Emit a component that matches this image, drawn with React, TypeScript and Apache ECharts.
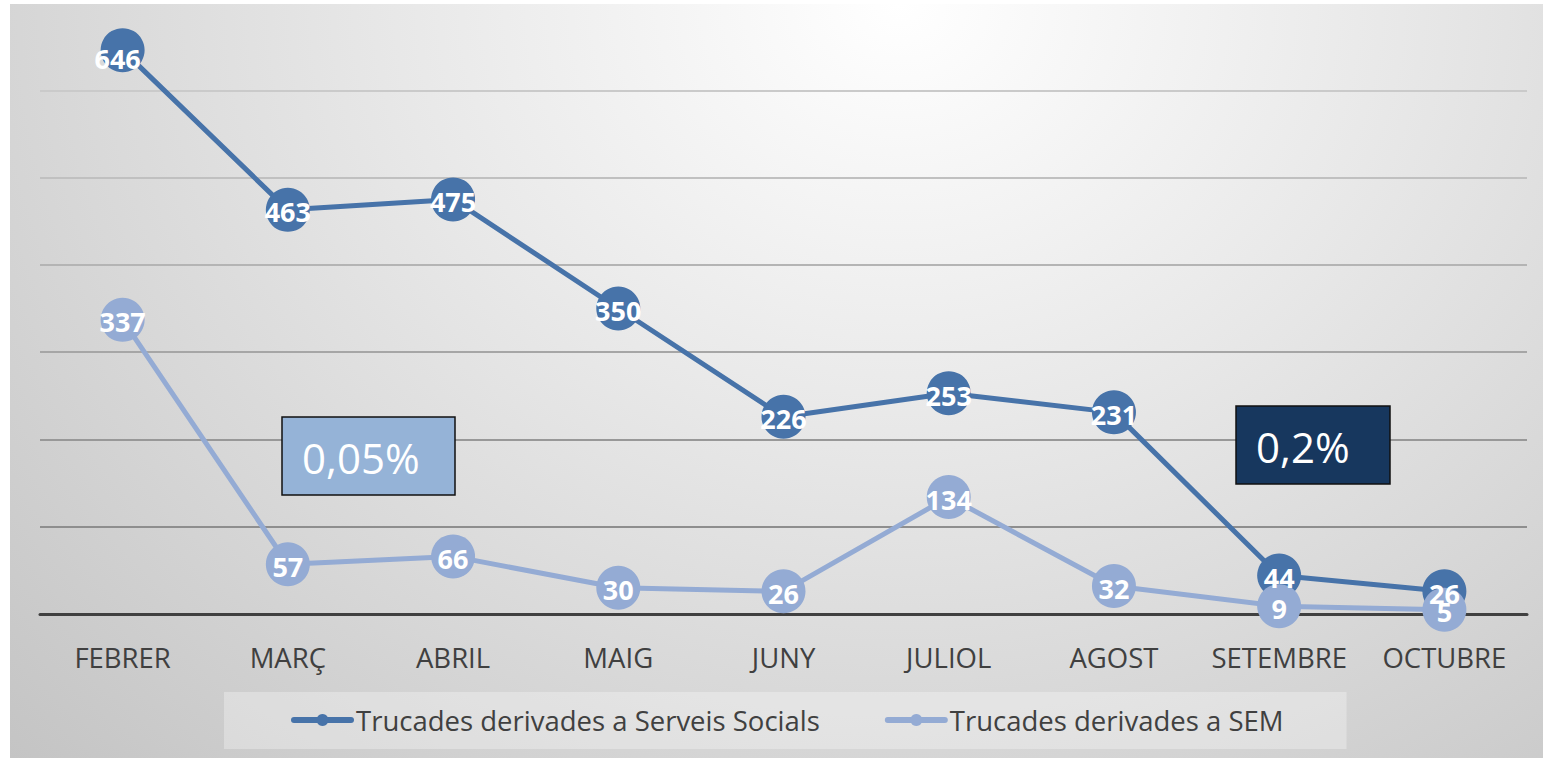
import React, { useEffect, useRef } from "react";
import * as echarts from "echarts";

const months = ["FEBRER", "MARÇ", "ABRIL", "MAIG", "JUNY", "JULIOL", "AGOST", "SETEMBRE", "OCTUBRE"];
const serveisSocials = [646, 463, 475, 350, 226, 253, 231, 44, 26];
const sem = [337, 57, 66, 30, 26, 134, 32, 9, 5];
const seriesNames = ["Trucades derivades a Serveis Socials", "Trucades derivades a SEM"];
const notes = ["0,05%", "0,2%"];

const FONT = "'Open Sans', sans-serif";
const DARK = "#4773A9";
const LIGHT = "#94ABD4";

export default function App() {
  const ref = useRef<HTMLDivElement>(null);

  useEffect(() => {
    if (!ref.current) return;
    const chart = echarts.init(ref.current, undefined, { renderer: "svg" });
    const maxVal = Math.max(...serveisSocials);
    const mkData = (arr: number[]) =>
      arr.map((v) =>
        v === maxVal ? { value: v, label: { offset: [-5, 8] } } : v
      );
    const labelCfg = {
      show: true,
      position: "inside",
      offset: [0, 2],
      color: "#ffffff",
      fontFamily: FONT,
      fontWeight: "bold",
      fontSize: 27,
    };
    chart.setOption({
      animation: false,
      backgroundColor: "transparent",
      textStyle: { fontFamily: FONT },
      grid: { left: 40, right: 17, top: 3, bottom: 145, containLabel: false },
      xAxis: {
        type: "category",
        data: months,
        boundaryGap: true,
        axisLine: { show: true, lineStyle: { color: "#404040", width: 3 } },
        axisTick: { show: false },
        axisLabel: { color: "#404040", fontSize: 27.5, fontFamily: FONT, margin: 29, interval: 0 },
        splitLine: { show: false },
      },
      yAxis: {
        type: "value",
        min: 0,
        max: 700,
        interval: 100,
        axisLabel: { show: false },
        axisLine: { show: false },
        axisTick: { show: false },
        splitLine: {
          show: true,
          lineStyle: {
            width: 2,
            color: [
              "#555555",
              "#8e8e8e",
              "#989898",
              "#a6a6a6",
              "#b4b4b4",
              "#c0c0c0",
              "#cacaca",
              "rgba(0,0,0,0)",
            ],
          },
        },
      },
      legend: {
        show: true,
        left: 224,
        top: 692,
        padding: [14, 63, 15, 67],
        itemGap: 65,
        itemWidth: 57,
        itemHeight: 15,
        backgroundColor: "rgba(255,255,255,0.3)",
        lineStyle: { width: 6, cap: "round" },
        textStyle: { color: "#404040", fontSize: 27.5, fontFamily: FONT },
        data: seriesNames,
      },
      graphic: [
        {
          type: "rect",
          shape: { x: 282, y: 417, width: 173, height: 78 },
          style: { fill: "#95B3D7", stroke: "#111111", lineWidth: 1.5 },
          z: 100,
        },
        {
          type: "text",
          x: 302,
          y: 457,
          style: {
            text: notes[0],
            fill: "#ffffff",
            fontSize: 42,
            fontFamily: FONT,
            align: "left",
            verticalAlign: "middle",
          },
          z: 101,
        },
        {
          type: "rect",
          shape: { x: 1236, y: 406, width: 154, height: 78 },
          style: { fill: "#17375E", stroke: "#111111", lineWidth: 1.5 },
          z: 100,
        },
        {
          type: "text",
          x: 1256,
          y: 446,
          style: {
            text: notes[1],
            fill: "#ffffff",
            fontSize: 42,
            fontFamily: FONT,
            align: "left",
            verticalAlign: "middle",
          },
          z: 101,
        },
      ],
      series: [
        {
          name: seriesNames[0],
          type: "line",
          data: mkData(serveisSocials),
          symbol: "circle",
          symbolSize: 44,
          lineStyle: { color: DARK, width: 5 },
          itemStyle: { color: DARK },
          label: labelCfg,
          z: 2,
        },
        {
          name: seriesNames[1],
          type: "line",
          data: sem,
          symbol: "circle",
          symbolSize: 44,
          lineStyle: { color: LIGHT, width: 5 },
          itemStyle: { color: LIGHT },
          label: labelCfg,
          z: 2,
        },
      ],
    });
    return () => chart.dispose();
  }, []);

  return (
    <div style={{ position: "fixed", left: 0, top: 0, width: 1544, height: 759, background: "#ffffff" }}>
      <div
        style={{
          position: "absolute",
          left: 10,
          top: 4,
          width: 1533,
          height: 754,
          background:
            "radial-gradient(ellipse farthest-corner at 58% 0%, #ffffff 0%, #e8e8e8 40%, #c4c4c4 100%)",
        }}
      />
      <div ref={ref} style={{ position: "absolute", left: 0, top: 0, width: 1544, height: 759 }} />
    </div>
  );
}
